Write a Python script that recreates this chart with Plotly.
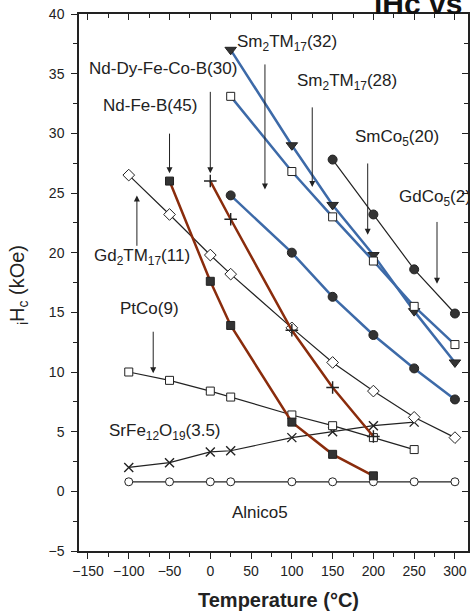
import plotly.graph_objects as go

# ---- data ----
temps_alnico = [-100, -50, 0, 25, 100, 150, 200, 250, 300]
alnico5 = [0.8, 0.8, 0.8, 0.8, 0.8, 0.8, 0.8, 0.8, 0.8]

temps_srfe = [-100, -50, 0, 25, 100, 150, 200, 250]
srfe = [2.0, 2.4, 3.3, 3.4, 4.5, 5.0, 5.5, 5.8]

temps_ptco = [-100, -50, 0, 25, 100, 150, 200, 250]
ptco = [10.0, 9.3, 8.4, 7.9, 6.4, 5.5, 4.5, 3.5]

temps_gd2 = [-100, -50, 0, 25, 100, 150, 200, 250, 300]
gd2tm17 = [26.5, 23.2, 19.8, 18.2, 13.7, 10.8, 8.4, 6.2, 4.5]

temps_ndfeb = [-50, 0, 25, 100, 150, 200]
ndfeb = [26.0, 17.6, 13.9, 5.8, 3.1, 1.3]

temps_nddy = [0, 25, 100, 150, 200]
nddy = [26.0, 22.8, 13.5, 8.7, 4.6]

temps_sm32 = [25, 100, 150, 200, 250, 300]
sm2tm17_32 = [37.0, 29.0, 24.0, 19.8, 15.1, 10.8]

temps_sm28 = [25, 100, 150, 200, 250, 300]
sm2tm17_28 = [33.1, 26.8, 23.0, 19.3, 15.5, 12.3]

temps_smco5 = [150, 200, 250, 300]
smco5 = [27.8, 23.2, 18.6, 14.9]

temps_gdco5 = [25, 100, 150, 200, 250, 300]
gdco5 = [24.8, 20.0, 16.3, 13.1, 10.3, 7.7]

x_ticks = [-150, -100, -50, 0, 50, 100, 150, 200, 250, 300]
y_ticks = [-5, 0, 5, 10, 15, 20, 25, 30, 35, 40]

BROWN = "#8a2c0c"
BLUE = "#3d6aa8"
DARK = "#333333"

fig = go.Figure()

def add(x, y, color, width, symbol, size, fill, lw=1.0):
    fig.add_trace(go.Scatter(
        x=x, y=y, mode="lines+markers",
        line=dict(color=color, width=width),
        marker=dict(symbol=symbol, size=size, color=fill,
                    line=dict(color="#222222", width=lw)),
        showlegend=False, cliponaxis=False, hoverinfo="skip"))

add(temps_alnico, alnico5, "#222222", 1.2, "circle", 8, "white")
add(temps_srfe, srfe, "#222222", 1.2, "x-thin", 9, "#222222", 1.4)
add(temps_ptco, ptco, "#222222", 1.2, "square", 8, "white")
add(temps_gd2, gd2tm17, "#222222", 1.2, "diamond", 9, "white")
add(temps_ndfeb, ndfeb, BROWN, 2.5, "square", 8, DARK)
add(temps_nddy, nddy, BROWN, 2.5, "cross-thin", 9, "#222222", 1.4)
add(temps_sm32, sm2tm17_32, BLUE, 2.5, "triangle-down", 10, DARK)
add(temps_sm28, sm2tm17_28, BLUE, 2.5, "square", 8, "white")
add(temps_smco5, smco5, "#222222", 1.2, "circle", 9, DARK)
add(temps_gdco5, gdco5, BLUE, 2.5, "circle", 9, DARK)

FONT = "Liberation Sans, Arial, sans-serif"
lab_font = dict(family=FONT, size=17, color="#222222")

labels = [
    ("Nd-Dy-Fe-Co-B(30)", -58, 35.45, "center"),
    ("Nd-Fe-B(45)", -74, 32.3, "center"),
    ("Sm<sub>2</sub>TM<sub>17</sub>(32)", 94, 37.6, "center"),
    ("Sm<sub>2</sub>TM<sub>17</sub>(28)", 168, 34.3, "center"),
    ("SmCo<sub>5</sub>(20)", 229, 29.6, "center"),
    ("GdCo<sub>5</sub>(2)", 229, 24.6, "left"),
    ("Gd<sub>2</sub>TM<sub>17</sub>(11)", -84, 19.6, "center"),
    ("PtCo(9)", -75, 15.3, "center"),
    ("SrFe<sub>12</sub>O<sub>19</sub>(3.5)", -56, 4.95, "center"),
    ("Alnico5", 61, -1.76, "center"),
]
for text, x, y, anc in labels:
    fig.add_annotation(x=x, y=y, xref="x", yref="y", text=text, showarrow=False,
                       xanchor=anc, yanchor="middle", font=lab_font)

arrows = [
    (-50, 30.1, 26.65),
    (0, 33.6, 26.65),
    (67, 35.9, 25.3),
    (125, 32.3, 25.5),
    (193, 27.6, 21.5),
    (278, 22.7, 17.4),
    (-90, 20.45, 24.8),
    (-70, 13.5, 9.9),
]
for x, y0, y1 in arrows:
    fig.add_annotation(x=x, y=y1, ax=x, ay=y0, xref="x", yref="y", axref="x", ayref="y",
                       text="", showarrow=True, arrowhead=2, arrowsize=1.2,
                       arrowwidth=1, arrowcolor="#222222")

# axis titles
fig.add_annotation(x=-0.157, y=0.495, xref="paper", yref="paper",
                   xanchor="center", yanchor="middle",
                   text="<sub>i</sub>H<sub>c</sub> (kOe)", textangle=-90, showarrow=False,
                   font=dict(family=FONT, size=20, color="#222222"))
fig.add_annotation(x=0.512, y=-0.091, xref="paper", yref="paper",
                   xanchor="center", yanchor="middle",
                   text="<b>Temperature (°C)</b>", showarrow=False,
                   font=dict(family=FONT, size=20, color="#222222"))
# cut-off title at top
fig.add_annotation(x=0.753, y=1.0, xref="paper", yref="paper", xanchor="left", yanchor="bottom",
                   yshift=-8, text="<b>iHc vs T</b>", showarrow=False,
                   font=dict(family=FONT, size=30, color="#111111"))

XR = [-161, 316]
YR = [-5, 40]
axis_common = dict(showgrid=False, zeroline=False, showline=True, linecolor="#222222",
                   linewidth=1.5, tickcolor="#222222", tickwidth=1.2,
                   tickfont=dict(family=FONT, size=14, color="#222222"))

fig.update_layout(
    width=470, height=614,
    margin=dict(l=79, r=2, t=14, b=63),
    paper_bgcolor="white", plot_bgcolor="white",
    hovermode=False,
    xaxis=dict(range=XR, tickvals=x_ticks, ticks="outside", ticklen=6,
               minor=dict(dtick=25, tick0=0, ticks="outside", ticklen=4, tickcolor="#222222"),
               **axis_common),
    yaxis=dict(range=YR, tickvals=y_ticks, ticks="outside", ticklen=6, ticklabelstandoff=4,
               minor=dict(dtick=2.5, tick0=0, ticks="outside", ticklen=4, tickcolor="#222222"),
               **axis_common),
    xaxis2=dict(range=XR, overlaying="x", side="top", tickvals=x_ticks, ticks="inside",
                ticklen=6, showticklabels=False,
                minor=dict(dtick=25, tick0=0, ticks="inside", ticklen=4, tickcolor="#222222"),
                **axis_common),
    yaxis2=dict(range=YR, overlaying="y", side="right", tickvals=y_ticks, ticks="inside",
                ticklen=6, showticklabels=False,
                minor=dict(dtick=2.5, tick0=0, ticks="inside", ticklen=4, tickcolor="#222222"),
                **axis_common),
)
# dummy trace to activate the mirror axes
fig.add_trace(go.Scatter(x=[None], y=[None], xaxis="x2", yaxis="y2", showlegend=False))

fig.write_html("out.html", config={"displayModeBar": False})

# remove default page margin so the figure sits at the window's top-left corner
with open("out.html", "r", encoding="utf-8") as f:
    html = f.read()
html = html.replace("<head>", "<head><style>html,body{margin:0;padding:0;overflow:hidden;}</style>", 1)
with open("out.html", "w", encoding="utf-8") as f:
    f.write(html)
